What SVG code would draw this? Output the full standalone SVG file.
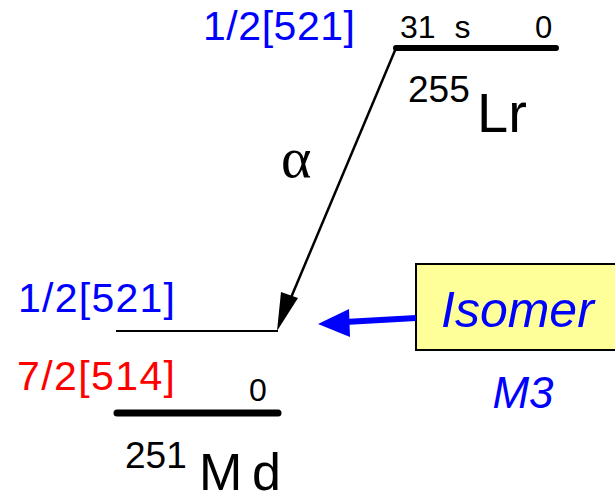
<svg xmlns="http://www.w3.org/2000/svg" width="615" height="501" viewBox="0 0 615 501">
<style>
text{font-family:"Liberation Sans",Arial,sans-serif}
.blue{fill:#0000ff}
.red{fill:#ff0000}
.blk{fill:#000}
.lvl{stroke:#000;stroke-linecap:round}
</style>
<g id="lr255">
<line class="lvl" x1="396" y1="48" x2="556" y2="48" stroke-width="6"/>
<text x="203" y="40" font-size="41" textLength="152" lengthAdjust="spacing" class="blue">1/2[521]</text>
<text x="400" y="38" font-size="32" word-spacing="10" class="blk">31 s</text>
<text x="535" y="38" font-size="31" class="blk">0</text>
<text x="408" y="102" font-size="37" class="blk">255</text>
<text x="477" y="132" font-size="56" class="blk">Lr</text>
</g>
<g id="md251">
<line x1="116" y1="331" x2="278" y2="331" stroke="#000" stroke-width="2"/>
<line class="lvl" x1="117" y1="413" x2="278" y2="413" stroke-width="7"/>
<text x="18" y="312" font-size="41" textLength="157" lengthAdjust="spacing" class="blue">1/2[521]</text>
<text x="17" y="390" font-size="41" textLength="158" lengthAdjust="spacing" class="red">7/2[514]</text>
<text x="249" y="401" font-size="32" class="blk">0</text>
<text x="125" y="468" font-size="37" class="blk">251</text>
<text x="199" y="490" font-size="52" textLength="82" lengthAdjust="spacing" class="blk">Md</text>
</g>
<g id="isomer">
<rect x="416" y="264" width="205" height="86" fill="#ffff99" stroke="#000" stroke-width="2"/>
<text x="441" y="327" font-size="50" font-style="italic" class="blue">Isomer</text>
<text x="523" y="408" font-size="44" font-style="italic" text-anchor="middle" class="blue">M3</text>
</g>
<g id="connectors">
<line x1="396" y1="48" x2="290" y2="300" stroke="#000" stroke-width="2.5"/>
<path d="M277,331 L281,292 L298,298 z" fill="#000"/>
<text x="281" y="177" font-size="58" style="font-family:'Liberation Serif',serif" class="blk">α</text>
<line x1="416" y1="318" x2="345" y2="322" stroke="#0000ff" stroke-width="6"/>
<path d="M318,324 L349,309 L350,337 z" fill="#0000ff"/>
</g>
</svg>
